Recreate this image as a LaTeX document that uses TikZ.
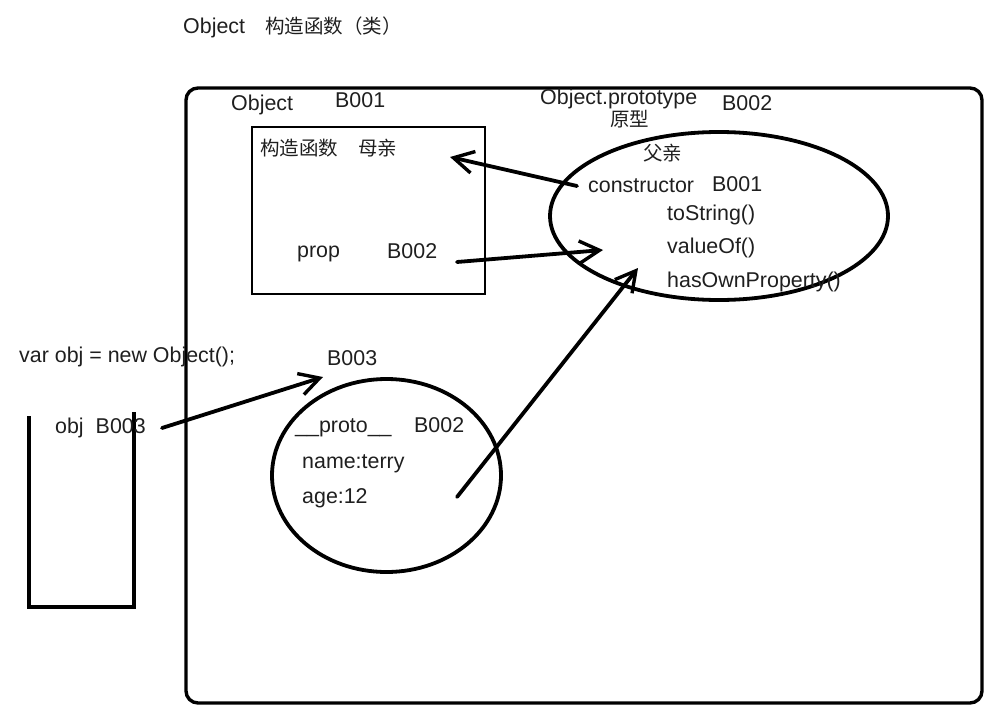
\documentclass[tikz,border=0pt]{standalone}
\usepackage{fontspec}
\setmainfont{Liberation Sans}
\newfontfamily\cjk{Noto Sans CJK SC}
\usetikzlibrary{arrows.meta}
\begin{document}
\begin{tikzpicture}[x=1pt,y=-1pt,
  txt/.style={anchor=base west, inner sep=0pt, font=\fontsize{21.4}{24}\selectfont, text=black!88},
  ctxt/.style={anchor=base west, inner sep=0pt, font=\cjk\fontsize{19.5}{24}\selectfont, text=black!88},
  frame/.style={line width=3.4pt, rounded corners=12pt},
  box/.style={line width=2.8pt},
  oval/.style={line width=3.8pt},
  arr/.style={line width=3.8pt, line cap=round, -{Straight Barb[length=20pt,width=22pt,line width=3.4pt]}},
  stackline/.style={line width=3.2pt}]
\useasboundingbox (0,0) rectangle (992,717);
% title
\node[txt] (title) at (183,34) {Object\hspace{20pt}{\cjk\fontsize{19.5}{24}\selectfont 构造函数（类）}};
% outer frame
\draw[frame] (186,88) rectangle (982,703);
% constructor box
\draw[box] (252,127) rectangle (485,294);
\node[txt] (objlbl) at (231,110) {Object};
\node[txt] (b001a) at (335,107) {B001};
\node[ctxt] (ctor) at (260,155) {构造函数\hspace{20pt}母亲};
\node[txt] (prop) at (297,257) {prop};
\node[txt] (b002a) at (387,258) {B002};
% prototype
\node[txt] (protolbl) at (540,104) {Object.prototype};
\node[txt] (b002b) at (722,110) {B002};
\node[ctxt] (yuanxing) at (610,126) {原型};
\draw[oval] (719,216) ellipse [x radius=169pt, y radius=84pt];
\node[ctxt] (fuqin) at (643,160) {父亲};
\node[txt] (constr) at (588,192) {constructor};
\node[txt] (b001b) at (712,191) {B001};
\node[txt] (tostr) at (667,220) {toString()};
\node[txt] (valof) at (667,253) {valueOf()};
\node[txt] (hasown) at (667,287) {hasOwnProperty()};
% instance
\node[txt] (varobj) at (19,362) {var obj = new Object();};
\node[txt] (b003a) at (327,365) {B003};
\draw[oval] (386.5,475.5) ellipse [x radius=114.5pt, y radius=96.5pt];
\node[txt] (protoprop) at (295,432) {\_\_proto\_\_};
\node[txt] (b002c) at (414,432) {B002};
\node[txt] (name) at (302,468) {name:terry};
\node[txt] (age) at (302,503) {age:12};
% stack
\draw[stackline] (29,416) -- (29,607) -- (134,607) -- (134,412);
\node[txt] (objvar) at (55,433) {obj\hspace{12pt}B003};
% arrows
\coordinate (a1s) at (577,186); \coordinate (a1e) at (450,157);
\coordinate (a2s) at (457,262); \coordinate (a2e) at (603,250);
\coordinate (a3s) at (457,497); \coordinate (a3e) at (638,268);
\coordinate (a4s) at (162,428); \coordinate (a4e) at (323,377);
\draw[arr] (a1s) -- (a1e);
\draw[arr] (a2s) -- (a2e);
\draw[arr] (a3s) -- (a3e);
\draw[arr] (a4s) -- (a4e);
\end{tikzpicture}
\end{document}
